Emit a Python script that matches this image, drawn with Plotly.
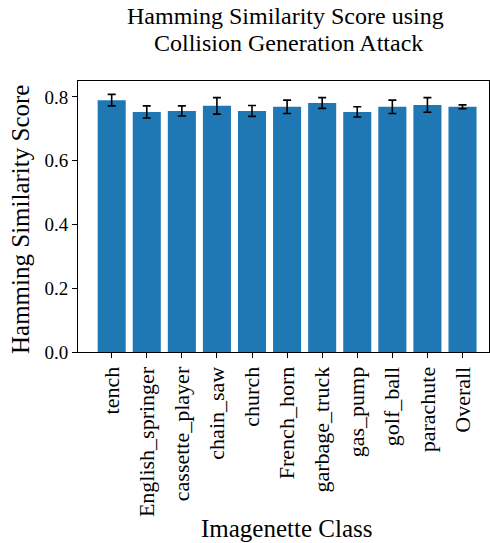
import plotly.graph_objects as go

categories = ["tench", "English_springer", "cassette_player", "chain_saw", "church",
              "French_horn", "garbage_truck", "gas_pump", "golf_ball", "parachute", "Overall"]
scores = [0.790, 0.753, 0.756, 0.772, 0.756, 0.769, 0.781, 0.753, 0.769, 0.775, 0.769]
errors = [0.018, 0.019, 0.016, 0.026, 0.017, 0.021, 0.017, 0.016, 0.021, 0.023, 0.006]
y_ticks = [0.0, 0.2, 0.4, 0.6, 0.8]

FONT = "Liberation Serif, Times New Roman, serif"
W, H = 490, 543
ML, MR, MT, MB = 78, 1, 81, 191

fig = go.Figure(go.Bar(
    x=list(range(len(categories))),
    y=scores,
    width=0.8,
    marker=dict(color="#1f77b4", line=dict(width=0)),
    error_y=dict(type="data", array=errors, visible=True, color="black",
                 thickness=1.6, width=4),
))

def px_to_paper_y(py):
    return (H - MB - py) / (H - MT - MB)

def px_to_paper_x(px):
    return (px - ML) / (W - ML - MR)

annotations = [
    dict(text="Hamming Similarity Score using", x=px_to_paper_x(285.5), y=px_to_paper_y(16),
         xref="paper", yref="paper", xanchor="center", yanchor="middle", showarrow=False,
         font=dict(family=FONT, size=24, color="black")),
    dict(text="Collision Generation Attack", x=px_to_paper_x(288.5), y=px_to_paper_y(43),
         xref="paper", yref="paper", xanchor="center", yanchor="middle", showarrow=False,
         font=dict(family=FONT, size=24, color="black")),
    dict(text="Imagenette Class", x=px_to_paper_x(286), y=px_to_paper_y(528),
         xref="paper", yref="paper", xanchor="center", yanchor="middle", showarrow=False,
         font=dict(family=FONT, size=25, color="black")),
    dict(text="Hamming Similarity Score", x=px_to_paper_x(21), y=px_to_paper_y(220),
         xref="paper", yref="paper", xanchor="center", yanchor="middle", showarrow=False,
         textangle=-90, font=dict(family=FONT, size=25, color="black")),
]

fig.update_layout(
    width=W, height=H,
    margin=dict(l=ML, r=MR, t=MT, b=MB, autoexpand=False),
    paper_bgcolor="white", plot_bgcolor="white",
    font=dict(family=FONT, color="black"),
    showlegend=False,
    annotations=annotations,
)

fig.update_xaxes(
    range=[-0.96, 10.755], automargin=False,
    tickmode="array", tickvals=list(range(len(categories))), ticktext=categories,
    tickangle=-90, tickfont=dict(family=FONT, size=22, color="black"),
    ticks="outside", ticklen=5, tickwidth=1, tickcolor="black",
    showline=True, linecolor="black", linewidth=1, mirror=True,
    showgrid=False, zeroline=False,
)
fig.update_yaxes(
    range=[0, 0.85], automargin=False,
    tickmode="array", tickvals=y_ticks, ticktext=[f"{v:.1f}" for v in y_ticks],
    tickfont=dict(family=FONT, size=19, color="black"),
    ticks="outside", ticklen=5, tickwidth=1, tickcolor="black",
    showline=True, linecolor="black", linewidth=1, mirror=True,
    showgrid=False, zeroline=False,
)

fig.write_html("out.html", config={"displayModeBar": False},
               post_script="document.body.style.margin='0px';")
